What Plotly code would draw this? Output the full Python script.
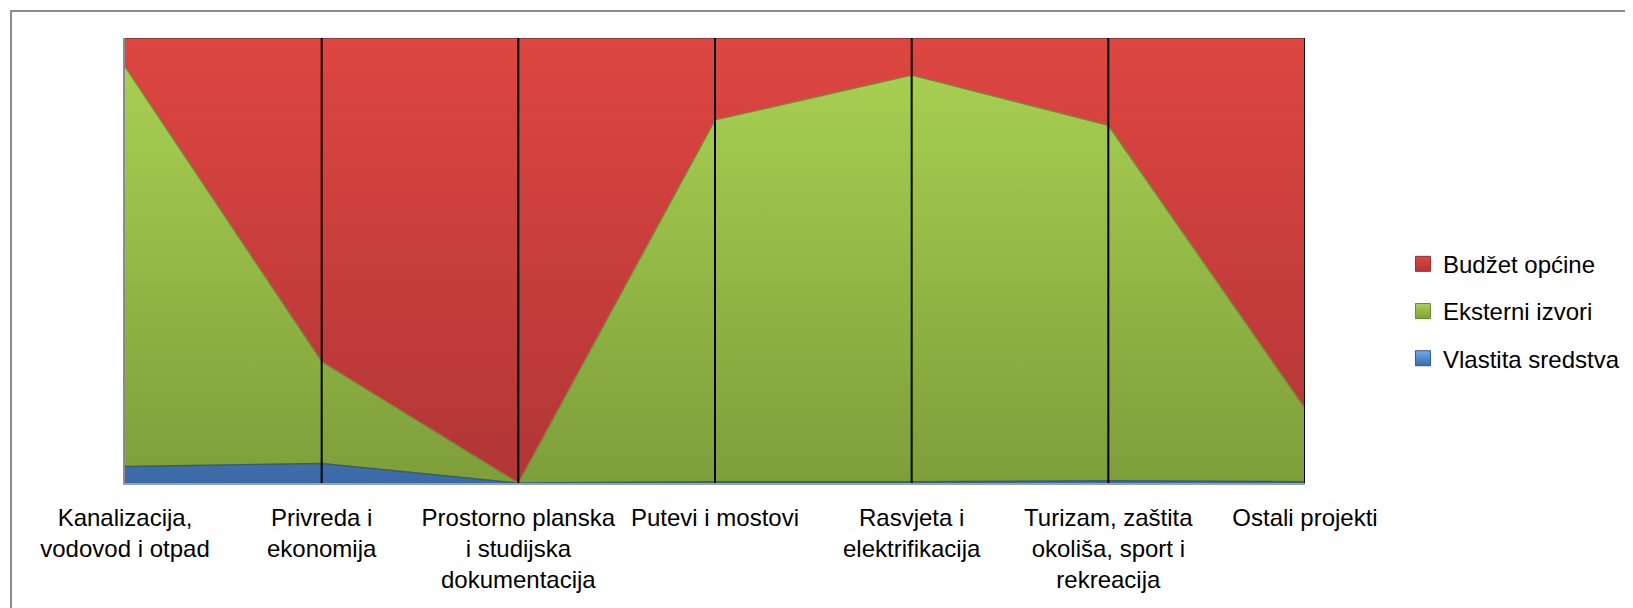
import plotly.graph_objects as go

categories = [
    "Kanalizacija,<br>vodovod i otpad",
    "Privreda i<br>ekonomija",
    "Prostorno planska<br>i studijska<br>dokumentacija",
    "Putevi i mostovi",
    "Rasvjeta i<br>elektrifikacija",
    "Turizam, zaštita<br>okoliša, sport i<br>rekreacija",
    "Ostali projekti",
]

# shares in %
vlastita = [3.7, 4.4, 0, 0.3, 0.3, 0.5, 0.3]
eksterni = [89.9, 22.9, 0, 81.3, 91.4, 79.9, 16.5]
budzet = [6.4, 72.7, 100, 18.4, 8.3, 19.6, 83.2]

font = "Liberation Sans, Arial, sans-serif"

series = [
    ("Vlastita sredstva", vlastita, "#3c6aa6", "#6eaeee", "#2f5a8f", 3),
    ("Eksterni izvori", eksterni, "#7e9e3a", "#aad353", "#6d8a30", 2),
    ("Budžet općine", budzet, "#b03636", "#de4641", "#9a2e2e", 1),
]

fig = go.Figure()
for name, vals, dark, light, edge, rank in series:
    fig.add_trace(go.Scatter(
        x=list(range(len(categories))), y=vals, name=name,
        stackgroup="one", groupnorm="percent", mode="lines",
        line=dict(width=1.5, color=edge),
        fillcolor=light,
        fillgradient=dict(type="vertical", start=0, stop=100,
                          colorscale=[[0, dark], [1, light]]),
        showlegend=False, hoverinfo="name+y",
    ))
    # square swatch for the legend
    fig.add_trace(go.Scatter(
        x=[None], y=[None], name=name, mode="markers",
        marker=dict(symbol="square", size=15, color=light,
                    gradient=dict(type="vertical", color=dark),
                    line=dict(color=edge, width=1)),
        legendrank=rank, legendgroup=name,
    ))

# black vertical lines at the categories
for i in range(1, len(categories)):
    fig.add_shape(type="line", xref="x", yref="paper", x0=i, x1=i, y0=0, y1=1,
                  line=dict(color="black", width=2), layer="above")

# outer chart frame
fig.add_shape(type="rect", xref="paper", yref="paper",
              x0=-0.0966, x1=1.30, y0=-0.40, y1=1.0607,
              line=dict(color="#8c8c8c", width=2), layer="below")

fig.update_layout(
    width=1633, height=608,
    margin=dict(l=117, r=336, t=30, b=133),
    paper_bgcolor="white", plot_bgcolor="white",
    font=dict(family=font, size=24, color="black"),
    showlegend=True,
    legend=dict(x=1.083, xanchor="left", y=0.386, yanchor="middle",
                traceorder="grouped", tracegroupgap=13,
                font=dict(size=24), itemwidth=30),
    xaxis=dict(
        tickmode="array", tickvals=list(range(len(categories))), ticktext=categories,
        range=[0, len(categories) - 1], showgrid=False, zeroline=False,
        showline=True, linecolor="#a0a0a0", linewidth=2, mirror=False,
        ticks="", ticklabelstandoff=12, tickfont=dict(size=24), automargin=False,
    ),
    yaxis=dict(range=[0, 100], showticklabels=False, showgrid=False,
               zeroline=False, showline=True, linecolor="#8c8c8c", linewidth=2,
               automargin=False),
)

fig.write_html("out.html")
